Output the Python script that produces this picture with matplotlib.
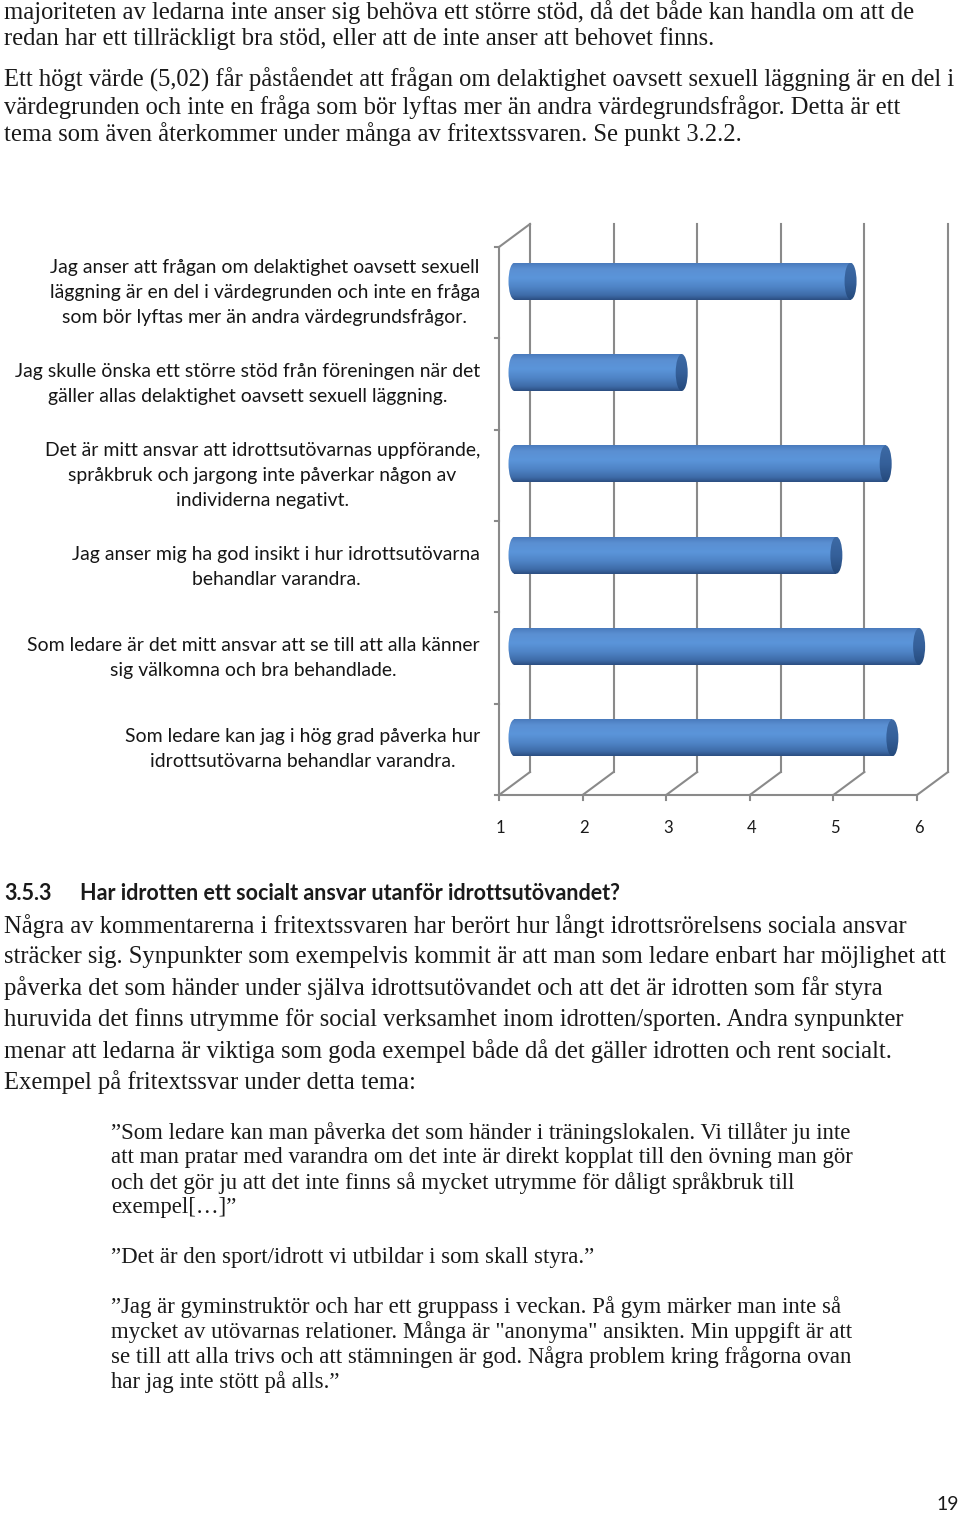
import matplotlib
matplotlib.use("Agg")
import matplotlib.pyplot as plt
import numpy as np
from matplotlib.patches import Rectangle, Ellipse
from matplotlib.colors import LinearSegmentedColormap

# --- data -------------------------------------------------------------
categories = [
    "Jag anser att frågan om delaktighet oavsett sexuell\nläggning är en del i värdegrunden och inte en fråga\nsom bör lyftas mer än andra värdegrundsfrågor.",
    "Jag skulle önska ett större stöd från föreningen när det\ngäller allas delaktighet oavsett sexuell läggning.",
    "Det är mitt ansvar att idrottsutövarnas uppförande,\nspråkbruk och jargong inte påverkar någon av\nindividerna negativt.",
    "Jag anser mig ha god insikt i hur idrottsutövarna\nbehandlar varandra.",
    "Som ledare är det mitt ansvar att se till att alla känner\nsig välkomna och bra behandlade.",
    "Som ledare kan jag i hög grad påverka hur\nidrottsutövarna behandlar varandra.",
]
values = [5.02, 3.0, 5.44, 4.85, 5.84, 5.52]
xticks = [1, 2, 3, 4, 5, 6]

para1 = [
    "majoriteten av ledarna inte anser sig behöva ett större stöd, då det både kan handla om att de",
    "redan har ett tillräckligt bra stöd, eller att de inte anser att behovet finns.",
]
para2 = [
    "Ett högt värde (5,02) får påståendet att frågan om delaktighet oavsett sexuell läggning är en del i",
    "värdegrunden och inte en fråga som bör lyftas mer än andra värdegrundsfrågor. Detta är ett",
    "tema som även återkommer under många av fritextssvaren. Se punkt 3.2.2.",
]
heading_num = "3.5.3"
heading = "Har idrotten ett socialt ansvar utanför idrottsutövandet?"
para3 = [
    "Några av kommentarerna i fritextssvaren har berört hur långt idrottsrörelsens sociala ansvar",
    "sträcker sig. Synpunkter som exempelvis kommit är att man som ledare enbart har möjlighet att",
    "påverka det som händer under själva idrottsutövandet och att det är idrotten som får styra",
    "huruvida det finns utrymme för social verksamhet inom idrotten/sporten. Andra synpunkter",
    "menar att ledarna är viktiga som goda exempel både då det gäller idrotten och rent socialt.",
    "Exempel på fritextssvar under detta tema:",
]
quote1 = [
    "\u201dSom ledare kan man påverka det som händer i träningslokalen. Vi tillåter ju inte",
    "att man pratar med varandra om det inte är direkt kopplat till den övning man gör",
    "och det gör ju att det inte finns så mycket utrymme för dåligt språkbruk till",
    "exempel[\u2026]\u201d",
]
quote2 = ["\u201dDet är den sport/idrott vi utbildar i som skall styra.\u201d"]
quote3 = [
    "\u201dJag är gyminstruktör och har ett gruppass i veckan. På gym märker man inte så",
    "mycket av utövarnas relationer. Många är \"anonyma\" ansikten. Min uppgift är att",
    "se till att alla trivs och att stämningen är god. Några problem kring frågorna ovan",
    "har jag inte stött på alls.\u201d",
]
page_no = "19"

W, H = 960, 1515
fig = plt.figure(figsize=(W / 100, H / 100), dpi=100)
fig.patch.set_facecolor("white")

# page axes in pixel coordinates for the running text
page = fig.add_axes([0, 0, 1, 1])
page.set_xlim(0, W)
page.set_ylim(H, 0)
page.axis("off")

serif = "Liberation Serif"
sans = "Lato"
txt_color = "#1a1a1a"


def lines(block, x, y0, step, size, **kw):
    out = []
    for i, s in enumerate(block):
        out.append(page.text(x, y0 + i * step, s, fontsize=size, family=serif,
                             color=txt_color, va="center", ha="left", **kw))
    return out


t1 = lines(para1, 4, 12, 27, 16)
t2 = lines(para2, 4, 80, 27, 16)
t3 = lines(para3, 4, 926, 31.2, 16)
q1 = lines(quote1, 111, 1133, 25, 14.5)
q2 = lines(quote2, 111, 1257, 25, 14.5)
q3 = lines(quote3, 111, 1307, 25, 14.5)
h1 = page.text(4, 893, heading_num, fontsize=14, family=sans, weight="bold",
               color=txt_color, va="center")
h2 = page.text(80, 893, heading, fontsize=14, family=sans, weight="bold",
               color=txt_color, va="center")
pn = page.text(959, 1505, page_no, fontsize=14, family=sans, color=txt_color,
               va="center", ha="right")

# --- chart -----------------------------------------------------------
px_x = 83.6   # pixels per value unit
px_y = 91.33  # pixels per category
ax = fig.add_axes([490 / W, 1 - 800 / H, 465 / W, 585 / H])
ax.axis("off")

dx = 31 / px_x   # depth offset
dy = 23 / px_y
n = len(categories)
grid = "#8a8a8a"
lw = 1.5

for v in xticks:
    ax.plot([v + dx, v + dx], [dy, n + dy], color=grid, lw=lw, zorder=1)
    ax.plot([v, v + dx], [0, dy], color=grid, lw=lw, zorder=1)
    ax.plot([v, v], [0, -0.055], color=grid, lw=lw, clip_on=False)
    ax.text(v + 0.02, -0.36, str(v), fontsize=12, family=sans, color=txt_color,
            ha="center", va="center", clip_on=False)
ax.plot([1, 6], [0, 0], color=grid, lw=lw, zorder=1)
ax.plot([1, 1], [0, n], color=grid, lw=lw, zorder=1)
ax.plot([1, 1 + dx], [n, n + dy], color=grid, lw=lw, zorder=1)
for c in range(n + 1):
    ax.plot([1 - 0.05, 1], [c, c], color=grid, lw=lw, clip_on=False)

labels = []
for i, lab in enumerate(categories):
    labels.append(ax.text(1 + (480 - 499) / px_x, n - i - 0.5, lab, fontsize=12.5,
                          family=sans, color="#161616", ha="right", va="center",
                          multialignment="center", linespacing=1.55, clip_on=False))

body = LinearSegmentedColormap.from_list(
    "cyl", [(0.0, "#2c4f82"), (0.12, "#3e6ba8"), (0.35, "#4f84c6"),
            (0.6, "#5b95da"), (0.85, "#5a8fd2"), (1.0, "#4a7bbd")])
capc = LinearSegmentedColormap.from_list(
    "cap", [(0.0, "#254a7c"), (0.5, "#35609a"), (1.0, "#3d6aa5")])
grad = np.linspace(0, 1, 64).reshape(-1, 1)

h = 37 / px_y
ew = 12 / px_x
for i, v in enumerate(values):
    yc = n - i - 0.5 + dy / 2
    x0 = 1 + dx / 2
    x1 = v + dx / 2
    y0, y1 = yc - h / 2, yc + h / 2
    rect = Rectangle((x0, y0), x1 - x0, h, fc="none", ec="none")
    lend = Ellipse((x0, yc), ew, h, fc="none", ec="none")
    ax.add_patch(rect)
    ax.add_patch(lend)
    for clip in (rect, lend):
        im = ax.imshow(grad, cmap=body, extent=[x0 - ew, x1, y0, y1],
                       origin="lower", aspect="auto", zorder=3,
                       interpolation="bilinear")
        im.set_clip_path(clip)
    cap = Ellipse((x1, yc), ew, h, fc="none", ec="none")
    ax.add_patch(cap)
    im = ax.imshow(grad, cmap=capc, extent=[x1 - ew, x1 + ew, y0, y1],
                   origin="lower", aspect="auto", zorder=4, interpolation="bilinear")
    im.set_clip_path(cap)

ax.set_xlim(1 + (490 - 499) / px_x, 1 + (955 - 499) / px_x)
ax.set_ylim((795 - 800) / px_y, (795 - 215) / px_y)


# fit text widths to the page: the widest line of a group gets the target width
def fit(group, target):
    r = fig.canvas.get_renderer()
    w = max(t.get_window_extent(r).width for t in group)
    s = group[0].get_fontsize() * target / w
    for t in group:
        t.set_fontsize(s)


fig.canvas.draw()
fit(t1 + t2 + t3, 950)
fit(q1 + q2 + q3, 738)
fit([h2], 545)
h1.set_fontsize(h2.get_fontsize())
fit(labels, 468)

fig.savefig("out.png", dpi=100, facecolor="white")
